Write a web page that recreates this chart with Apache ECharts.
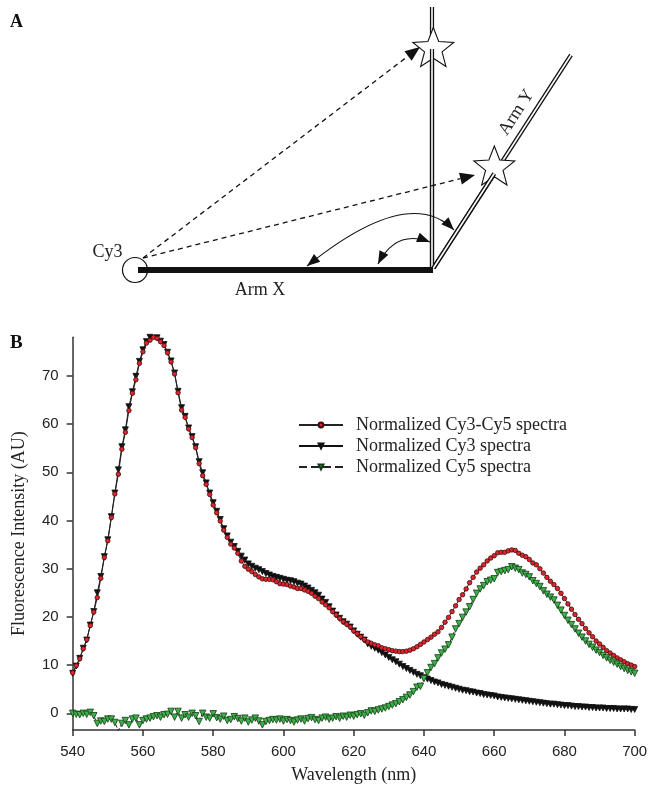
<!DOCTYPE html>
<html>
<head>
    <meta charset="utf-8">
    <title>Cy3 / Cy5 spectra</title>
    <script src="https://cdn.jsdelivr.net/npm/echarts@6/dist/echarts.min.js"></script>
    <style>html, body { margin: 0; padding: 0; background: #fff; }</style>
</head>
<body>
<div id="main" style="width: 649px;height:787px;"></div>
<script type="text/javascript">
    // wavelength (nm), one reading per nm
    const wavelength = [];
    for (let w = 540; w <= 700; w++) wavelength.push(w);

    // Normalized Cy3-Cy5 spectra (red circles)
    const cy3cy5 = [
        8.4, 9.9, 11.3, 13.4, 15.3, 18.2, 21.0, 24.0, 28.0, 32.3,
        35.8, 40.6, 45.5, 49.6, 54.8, 58.3, 62.8, 66.4, 69.2, 72.6,
        75.0, 76.8, 77.4, 78.0, 77.8, 77.1, 76.3, 74.8, 72.9, 70.4,
        66.5, 62.9, 61.4, 59.0, 57.2, 55.1, 51.8, 49.3, 47.5, 45.4,
        43.2, 41.6, 39.9, 38.0, 36.5, 35.1, 34.3, 33.2, 31.6, 30.5,
        29.9, 29.4, 28.8, 28.3, 27.9, 27.8, 27.8, 27.7, 27.3, 26.9,
        26.8, 26.7, 26.4, 26.2, 25.9, 25.9, 25.6, 25.3, 24.9, 24.3,
        23.8, 23.1, 22.5, 21.9, 21.1, 20.4, 19.7, 19.0, 18.5, 17.9,
        17.1, 16.5, 15.9, 15.3, 14.8, 14.5, 14.2, 14.0, 13.6, 13.4,
        13.2, 13.0, 12.9, 12.8, 12.8, 12.9, 13.1, 13.4, 13.8, 14.3,
        14.8, 15.3, 15.8, 16.4, 16.9, 17.8, 18.9, 19.9, 21.1, 22.3,
        23.6, 24.6, 25.8, 27.1, 28.2, 29.3, 30.1, 30.8, 31.6, 32.2,
        32.7, 33.3, 33.4, 33.4, 33.7, 33.9, 33.8, 33.2, 32.8, 32.5,
        31.9, 31.2, 30.8, 30.0, 29.1, 28.2, 27.4, 26.7, 25.9, 24.9,
        23.8, 22.7, 21.6, 20.5, 19.5, 18.6, 17.6, 16.7, 15.9, 15.0,
        14.4, 13.7, 13.0, 12.5, 12.0, 11.5, 11.1, 10.7, 10.3, 10.0,
        9.7
    ];

    // Normalized Cy3 spectra (black triangles)
    const cy3 = [
        8.3, 9.8, 11.4, 13.5, 15.2, 18.3, 21.1, 25.0, 28.4, 32.5,
        36.0, 40.8, 45.7, 50.5, 55.3, 58.8, 63.6, 66.7, 69.9, 73.0,
        75.4, 77.1, 78.0, 78.3, 77.9, 77.2, 76.5, 74.9, 73.1, 70.6,
        66.8, 63.4, 61.6, 59.2, 57.4, 55.3, 52.2, 49.9, 47.8, 45.7,
        43.7, 41.9, 40.2, 38.3, 36.8, 35.5, 34.6, 33.6, 32.6, 31.8,
        31.0, 30.5, 30.1, 29.8, 29.4, 29.0, 28.7, 28.4, 28.2, 28.0,
        27.8, 27.6, 27.5, 27.3, 27.0, 26.8, 26.4, 26.0, 25.5, 25.0,
        24.5, 23.7, 23.0, 22.1, 21.2, 20.4, 19.7, 19.0, 18.5, 17.9,
        17.1, 16.4, 15.8, 15.2, 14.4, 13.9, 13.5, 13.1, 12.6, 12.1,
        11.6, 11.1, 10.7, 10.2, 9.7, 9.3, 8.9, 8.5, 8.1, 7.8,
        7.4, 7.1, 6.8, 6.5, 6.3, 6.0, 5.8, 5.6, 5.4, 5.2,
        5.0, 4.8, 4.7, 4.5, 4.4, 4.2, 4.1, 3.9, 3.8, 3.7,
        3.6, 3.4, 3.3, 3.2, 3.1, 3.0, 2.9, 2.8, 2.7, 2.6,
        2.5, 2.4, 2.3, 2.2, 2.1, 2.0, 1.9, 1.9, 1.8, 1.7,
        1.6, 1.6, 1.5, 1.4, 1.4, 1.3, 1.3, 1.2, 1.2, 1.1,
        1.1, 1.1, 1.0, 1.0, 1.0, 0.9, 0.9, 0.9, 0.9, 0.8,
        0.8
    ];

    // Normalized Cy5 spectra (green triangles, dashed)
    const cy5 = [
        0.0, -0.2, -0.3, 0.0, -0.2, 0.2, -0.5, -2.1, -1.6, -1.7,
        -1.2, -1.2, -1.9, -3.6, -2.1, -1.5, -2.4, -1.2, -1.0, -2.4,
        -1.5, -1.2, -1.0, -0.7, -0.5, -0.8, -0.3, -0.2, 0.4, -0.8,
        0.4, -1.0, -0.3, -0.8, 0.0, -0.5, -1.7, 0.0, -0.8, -1.0,
        -0.1, -0.9, -1.2, -0.6, -1.5, -1.3, -0.7, -1.1, -1.6, -1.0,
        -1.8, -1.4, -1.0, -1.6, -2.4, -1.7, -1.5, -1.3, -1.4, -1.2,
        -1.6, -1.3, -1.5, -1.8, -1.4, -1.2, -1.6, -1.1, -0.9, -1.3,
        -1.5, -1.0, -0.8, -1.2, -1.0, -0.7, -1.0, -0.6, -0.8, -0.4,
        -0.6, -0.3, -0.1, -0.4, 0.1, 0.5, 0.4, 0.7, 0.9, 1.1,
        1.4, 1.7, 2.0, 2.4, 2.8, 3.3, 3.8, 4.5, 5.4, 5.6,
        7.2, 8.4, 9.5, 10.3, 11.5, 12.5, 13.3, 14.2, 15.8, 17.5,
        18.6, 19.9, 21.0, 22.1, 23.6, 24.9, 25.8, 26.5, 27.3, 27.6,
        27.9, 29.2, 29.4, 29.6, 29.8, 30.4, 30.1, 29.8, 29.1, 28.8,
        28.3, 27.5, 26.9, 26.3, 25.4, 24.7, 24.1, 23.5, 22.4, 21.4,
        20.3, 19.3, 18.4, 17.5, 16.6, 15.8, 15.0, 14.3, 13.7, 13.1,
        12.6, 12.0, 11.5, 11.0, 10.6, 10.2, 9.7, 9.3, 8.9, 8.6,
        8.3
    ];

    // tick labels
    const xTicks = [540, 560, 580, 600, 620, 640, 660, 680, 700];
    const yTicks = [0, 10, 20, 30, 40, 50, 60, 70];

    const SERIF = '"Liberation Serif", "Times New Roman", serif';
    const SANS = '"Liberation Sans", Arial, sans-serif';

    function pairs(ys) {
        return wavelength.map((w, i) => [w, ys[i]]);
    }

    // ---- helpers for panel A ----
    function starPoints(cx, cy, R, r) {
        const pts = [];
        for (let i = 0; i < 10; i++) {
            const a = -Math.PI / 2 + i * Math.PI / 5;
            const rr = i % 2 ? r : R;
            pts.push([cx + rr * Math.cos(a), cy + rr * Math.sin(a)]);
        }
        return pts;
    }

    // triangle with its tip at `tip`, pointing away from `from`
    function arrowHead(tip, from, len, half) {
        const dx = tip[0] - from[0], dy = tip[1] - from[1];
        const d = Math.hypot(dx, dy);
        const ux = dx / d, uy = dy / d;
        const bx = tip[0] - ux * len, by = tip[1] - uy * len;
        return {
            pts: [tip, [bx - uy * half, by + ux * half], [bx + uy * half, by - ux * half]],
            base: [bx, by]
        };
    }

    function doubleLine(x1, y1, x2, y2) {
        return [
            {type: 'line', shape: {x1, y1, x2, y2}, style: {stroke: '#111', lineWidth: 4.2}},
            {type: 'line', shape: {x1, y1, x2, y2}, style: {stroke: '#fff', lineWidth: 1.6}}
        ];
    }

    function star(cx, cy) {
        return {type: 'polygon', shape: {points: starPoints(cx, cy, 21.5, 9.2)},
            style: {fill: '#fff', stroke: '#111', lineWidth: 1.1}};
    }

    const src = [143, 258];
    const tip1 = arrowHead([420, 47], src, 15, 6);
    const tip2 = arrowHead([475, 175], src, 15, 6);

    // curved double arrows
    const bigArc = {p0: [307, 266], c: [409, 184], p1: [454, 230]};
    const smallArc = {p0: [378, 264], c: [396, 229], p1: [430, 242]};

    function arcElements(a) {
        const h0 = arrowHead(a.p0, a.c, 13, 5);
        const h1 = arrowHead(a.p1, a.c, 13, 5);
        return [
            {type: 'bezierCurve', shape: {x1: a.p0[0], y1: a.p0[1], x2: a.p1[0], y2: a.p1[1], cpx1: a.c[0], cpy1: a.c[1]},
                style: {stroke: '#111', lineWidth: 1.1, fill: null}},
            {type: 'polygon', shape: {points: h0.pts}, style: {fill: '#111'}},
            {type: 'polygon', shape: {points: h1.pts}, style: {fill: '#111'}}
        ];
    }

    const panelA = [].concat(
        doubleLine(432, 7, 432, 268),
        doubleLine(433.5, 268, 571, 55),
        [star(433.3, 49), star(494.3, 167.5)],
        // the arms show through the lower half of each star
        doubleLine(432, 49, 432, 268),
        doubleLine(433.5, 268, 494.3, 173.5),
        [
            {type: 'line', shape: {x1: 138, y1: 270, x2: 433, y2: 270}, style: {stroke: '#111', lineWidth: 6}},
            {type: 'circle', shape: {cx: 135, cy: 270, r: 12.5}, style: {stroke: '#111', lineWidth: 1.2, fill: null}},
            {type: 'line', shape: {x1: src[0], y1: src[1], x2: tip1.base[0], y2: tip1.base[1]},
                style: {stroke: '#111', lineWidth: 1.3, lineDash: [5, 4]}},
            {type: 'polygon', shape: {points: tip1.pts}, style: {fill: '#111'}},
            {type: 'line', shape: {x1: src[0], y1: src[1], x2: tip2.base[0], y2: tip2.base[1]},
                style: {stroke: '#111', lineWidth: 1.3, lineDash: [5, 4]}},
            {type: 'polygon', shape: {points: tip2.pts}, style: {fill: '#111'}}
        ],
        arcElements(bigArc),
        arcElements(smallArc),
        [
            {type: 'text', x: 10, y: 22, style: {text: 'A', fontFamily: SERIF, fontWeight: 'bold', fontSize: 18, fill: '#111', verticalAlign: 'middle'}},
            {type: 'text', x: 10, y: 343, style: {text: 'B', fontFamily: SERIF, fontWeight: 'bold', fontSize: 19, fill: '#111', verticalAlign: 'middle'}},
            {type: 'text', x: 107.5, y: 252, style: {text: 'Cy3', fontFamily: SERIF, fontSize: 18, fill: '#222', align: 'center', verticalAlign: 'middle'}},
            {type: 'text', x: 260, y: 290, style: {text: 'Arm X', fontFamily: SERIF, fontSize: 18, fill: '#222', align: 'center', verticalAlign: 'middle'}},
            {type: 'text', x: 516.5, y: 112.5, rotation: 57 * Math.PI / 180,
                style: {text: 'Arm Y', fontFamily: SERIF, fontSize: 18, fill: '#222', align: 'center', verticalAlign: 'middle'}}
        ]
    );

    const myChart = echarts.init(document.getElementById('main'));

    const option = {
        animation: false,
        backgroundColor: '#fff',
        graphic: panelA,
        grid: {left: 72.7, right: 14.3, top: 337.3, bottom: 57, outerBoundsMode: 'none'},
        legend: {
            orient: 'vertical',
            left: 298,
            top: 414.5,
            padding: 0,
            itemWidth: 44,
            itemHeight: 6,
            itemGap: 0,
            textStyle: {fontFamily: SERIF, fontSize: 18, lineHeight: 21, color: '#222', padding: [0, 0, 0, 8]}
        },
        xAxis: {
            type: 'value',
            min: 540,
            max: 700,
            name: 'Wavelength (nm)',
            nameLocation: 'middle',
            nameGap: 36,
            nameTextStyle: {fontFamily: SERIF, fontSize: 18, color: '#222'},
            splitLine: {show: false},
            axisLine: {onZero: false, lineStyle: {color: '#333', width: 1.5}},
            axisTick: {length: 6, lineStyle: {color: '#333', width: 1.5}, customValues: xTicks},
            axisLabel: {fontFamily: SANS, fontSize: 15, color: '#222', margin: 14, customValues: xTicks}
        },
        yAxis: {
            type: 'value',
            min: -3.46,
            max: 78,
            name: 'Fluorescence Intensity (AU)',
            nameLocation: 'middle',
            nameGap: 44,
            nameTextStyle: {fontFamily: SERIF, fontSize: 18, color: '#222'},
            splitLine: {show: false},
            axisLine: {show: true, onZero: false, lineStyle: {color: '#333', width: 1.5}},
            axisTick: {show: true, length: 6, lineStyle: {color: '#333', width: 1.5}, customValues: yTicks},
            axisLabel: {fontFamily: SANS, fontSize: 15, color: '#222', margin: 14, customValues: yTicks}
        },
        series: [
            {
                name: 'Normalized Cy3-Cy5 spectra',
                type: 'line',
                data: pairs(cy3cy5),
                symbol: 'circle',
                symbolSize: 4.5,
                showAllSymbol: true,
                z: 4,
                lineStyle: {color: '#222', width: 1},
                itemStyle: {color: '#e3232c', borderColor: '#3a0d0d', borderWidth: 0.8}
            },
            {
                name: 'Normalized Cy3 spectra',
                type: 'line',
                data: pairs(cy3),
                symbol: 'triangle',
                symbolRotate: 180,
                symbolSize: 6,
                showAllSymbol: true,
                z: 3,
                lineStyle: {color: '#111', width: 1},
                itemStyle: {color: '#111', borderColor: '#111', borderWidth: 0.8}
            },
            {
                name: 'Normalized Cy5 spectra',
                type: 'line',
                data: pairs(cy5),
                symbol: 'triangle',
                symbolRotate: 180,
                symbolSize: 6.5,
                showAllSymbol: true,
                z: 5,
                lineStyle: {color: '#222', width: 1, type: 'dashed'},
                itemStyle: {color: '#3cb04a', borderColor: '#173a17', borderWidth: 0.8}
            }
        ]
    };

    myChart.setOption(option);
</script>
</body>
</html>
